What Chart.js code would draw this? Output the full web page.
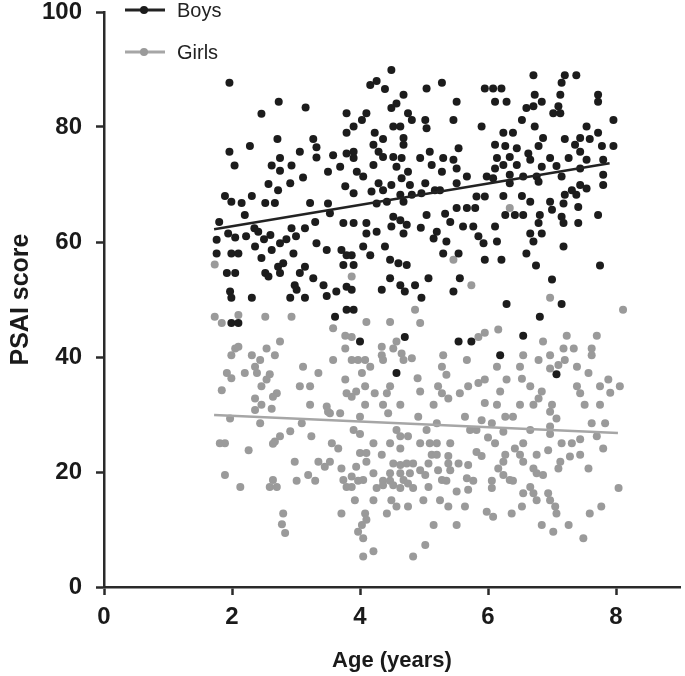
<!DOCTYPE html>
<html>
<head>
<meta charset="utf-8">
<script src="https://cdn.jsdelivr.net/npm/chart.js@4/dist/chart.umd.min.js"></script>
<style>
  body { margin: 0; background: #fff; }
  #wrap { width: 685px; height: 676px; }
</style>
</head>
<body>
<div id="wrap"><canvas id="psaiChart" width="685" height="676"></canvas></div>
<script>
// [age, PSAI score]
const boysPoints = [
  [1.96,87.7],[2.73,84.4],[2.46,82.3],[3.15,83.4],[2.28,76.7],[1.96,75.7],[2.71,77.9],[2.04,73.3],[3.27,77.9],[3.32,76.5],
  [3.32,74.7],[3.06,75.7],[2.75,74.6],[2.62,73.3],[2.75,72.4],[2.93,73.3],[3.11,71.2],[2.57,70.1],[2.91,70.2],[2.72,69.0],
  [1.89,68.0],[1.99,67.0],[2.15,66.8],[2.31,68.0],[2.52,66.8],[2.67,66.8],[3.22,66.8],[2.20,64.7],[3.50,66.7],[3.53,65.0],
  [3.79,82.4],[3.79,79.0],[3.58,75.1],[3.79,75.4],[3.50,72.2],[3.69,73.1],[3.77,69.7],[3.30,63.5],[2.93,62.4],[3.14,62.4],
  [1.94,61.5],[2.41,61.8],[3.74,63.3],[2.05,60.8],[2.22,61.0],[2.35,62.4],[2.50,60.5],[2.60,61.2],[2.85,60.5],[3.00,61.0],
  [1.76,60.4],[1.80,63.5],
  [4.49,89.9],[4.16,87.3],[4.26,88.0],[4.39,86.6],[5.04,86.7],[5.28,87.7],[5.51,84.4],[5.95,86.7],[4.68,85.6],[4.57,84.1],
  [4.49,83.3],[4.10,82.4],[4.03,81.2],[4.75,82.4],[4.81,81.2],[4.52,80.1],[4.63,80.1],[5.02,81.2],[5.04,79.8],[5.46,81.2],
  [5.90,80.1],[3.90,80.1],[4.23,79.0],[4.36,77.9],[4.68,78.1],[4.68,76.9],[4.21,76.9],[4.29,75.7],[4.36,74.8],[4.52,74.8],
  [4.65,74.6],[3.90,75.7],[3.90,74.6],[4.94,74.6],[5.09,75.7],[5.12,73.4],[5.30,74.6],[5.54,76.3],[5.46,74.3],[5.51,72.8],
  [5.28,72.2],[4.21,73.4],[4.57,73.1],[3.95,72.2],[4.05,71.4],[4.75,72.2],[4.65,71.1],[5.67,71.4],[5.98,71.4],[4.29,70.2],
  [4.49,69.9],[4.78,69.9],[5.02,70.2],[5.51,70.2],[3.90,68.5],[4.18,68.8],[4.36,69.0],[4.63,68.2],[4.81,68.2],[4.96,68.5],
  [5.17,69.0],[5.25,69.0],[5.82,67.9],[5.95,67.9],[4.26,66.7],[4.42,67.0],[4.68,67.0],[5.04,64.7],[5.33,64.9],[5.51,65.9],
  [5.67,65.9],[5.80,65.9],[5.41,63.5],[5.61,62.7],[5.77,62.7],[3.90,63.3],[4.10,63.3],[4.10,61.5],[4.52,64.4],[4.63,63.8],
  [4.73,63.0],[4.49,62.7],[4.26,61.8],[4.68,61.5],[5.20,61.8],[5.85,61.0],[4.95,62.5],[5.15,60.6],
  [6.71,89.0],[7.20,89.0],[7.38,89.0],[7.15,87.7],[6.08,86.7],[6.21,86.7],[6.11,84.4],[6.29,84.4],[6.73,85.6],[7.13,85.6],
  [7.72,85.6],[7.72,84.4],[6.84,84.4],[6.60,83.3],[6.71,83.6],[7.10,83.6],[7.02,82.4],[7.13,82.4],[6.53,81.2],[7.96,81.2],
  [6.73,80.1],[7.54,80.1],[6.24,79.0],[6.39,79.0],[7.72,79.0],[6.86,78.1],[7.20,77.9],[7.44,78.1],[7.59,77.9],[6.79,76.7],
  [6.11,76.9],[6.27,76.7],[6.45,76.3],[7.36,76.9],[7.78,76.7],[7.96,76.7],[6.63,75.4],[7.44,75.7],[6.14,74.6],[6.34,74.8],
  [6.97,74.6],[7.26,74.6],[7.54,74.3],[7.80,74.3],[6.66,74.3],[6.11,72.8],[6.45,73.4],[6.24,73.4],[6.84,73.1],[7.07,73.2],
  [7.44,72.8],[6.34,71.7],[6.55,71.4],[6.76,71.4],[7.15,71.4],[7.80,71.7],[6.08,71.1],[6.34,70.2],[6.79,70.5],[7.80,69.9],
  [7.44,69.9],[7.31,69.0],[7.54,69.3],[6.24,68.0],[6.53,68.0],[6.66,67.0],[7.20,68.2],[7.38,68.2],[6.97,67.0],[7.18,66.7],
  [7.41,66.1],[7.00,65.6],[6.27,64.7],[6.42,64.7],[6.55,64.7],[6.81,64.7],[7.15,64.4],[7.72,64.7],[6.79,63.3],[7.18,63.3],
  [7.41,63.3],[6.11,62.7],[6.66,61.5],[6.84,61.5],
  [1.76,58.0],[1.99,58.0],[2.10,58.0],[2.36,59.2],[2.46,57.2],[2.62,58.6],[2.75,59.8],[2.52,54.6],[2.57,54.0],[2.72,55.7],
  [2.80,56.3],[2.96,58.0],[2.75,54.6],[3.14,55.7],[3.06,54.6],[3.27,53.7],[2.98,52.5],[3.01,51.7],[3.43,52.5],[3.63,51.4],
  [3.79,52.2],[3.48,50.6],[3.14,50.3],[2.91,50.3],[2.31,50.3],[1.97,51.4],[1.99,50.3],[1.92,54.6],[2.05,54.6],[1.99,45.9],
  [2.10,45.9],[3.61,47.0],[3.79,48.2],[3.32,59.8],[3.48,58.6],[3.71,58.6],[3.79,57.7],[3.74,56.0],
  [4.05,59.2],[4.16,57.7],[3.87,57.7],[3.90,56.0],[4.39,59.2],[4.47,56.9],[4.60,56.3],[4.73,56.0],[5.35,60.1],[5.30,58.0],
  [5.54,58.0],[5.95,56.9],[5.93,59.8],[4.34,51.7],[4.47,53.7],[4.63,52.5],[4.70,51.4],[4.86,52.5],[5.07,53.7],[4.96,50.3],
  [3.87,51.7],[5.56,53.7],[5.46,51.4],[3.90,48.2],[4.00,42.7],[4.70,43.5],[5.54,42.7],[5.74,42.7],[4.57,37.2],
  [6.14,60.1],[6.71,60.1],[7.18,59.2],[6.60,58.0],[6.21,56.9],[6.75,55.9],[7.75,55.9],[7.00,53.5],[6.29,49.2],[7.15,49.2],
  [6.81,47.0],[6.55,43.7],[6.19,40.3],[7.07,37.0]
];

const girlsPoints = [
  [1.73,56.1],[1.73,47.0],[1.84,45.9],[2.10,47.3],[2.52,47.0],[2.93,47.0],[2.75,42.7],[2.05,41.5],[2.10,41.8],[1.99,40.3],
  [2.31,40.3],[2.54,41.5],[2.67,40.3],[2.44,39.5],[2.36,38.3],[2.39,37.2],[1.92,37.2],[1.99,36.3],[2.20,37.2],[2.59,37.0],
  [2.54,36.1],[2.46,34.9],[2.70,33.7],[2.64,33.1],[2.36,32.8],[2.46,31.7],[3.11,38.3],[3.35,37.2],[3.06,34.9],[3.22,34.9],
  [3.22,31.7],[3.58,45.0],[3.77,43.7],[3.77,41.5],[3.58,39.5],[3.77,36.1],[3.79,33.7],[3.48,31.4],
  [1.97,29.3],[2.44,28.5],[3.09,28.5],[3.53,30.2],[3.69,30.2],[1.81,25.0],[1.89,25.0],[2.26,23.8],[2.67,25.3],[2.75,26.2],
  [2.91,27.1],[2.64,24.9],[3.24,26.2],[3.56,25.0],[3.66,24.1],[2.98,21.8],[3.35,21.8],[3.45,20.9],[3.53,21.8],[3.71,20.6],
  [1.89,19.5],[2.13,17.4],[2.64,18.6],[2.59,17.4],[2.70,17.4],[3.01,18.5],[3.19,19.5],[3.30,18.5],[3.74,18.6],[3.79,17.4],
  [2.80,12.8],[2.78,10.9],[2.83,9.4],[3.71,12.8],[3.50,30.5],[2.36,30.8],[2.62,31.0],[1.84,34.2],
  [4.00,29.6],[4.44,30.2],[4.91,29.6],[5.64,29.6],[5.20,28.5],[4.57,27.3],[4.63,26.2],[5.04,27.3],[3.90,27.3],[4.00,26.6],
  [4.21,25.0],[4.47,25.0],[4.75,26.2],[4.94,25.0],[5.09,25.0],[5.20,25.0],[5.41,25.0],[5.72,27.3],[5.82,27.3],[4.00,23.3],
  [4.10,23.3],[4.34,23.0],[4.63,24.1],[5.12,23.0],[5.20,23.0],[5.38,22.8],[5.82,23.5],[5.90,22.8],[3.94,20.9],[4.10,21.8],
  [4.52,21.5],[4.63,21.2],[4.73,21.5],[4.83,21.5],[5.07,21.5],[5.38,21.5],[5.54,21.5],[5.69,21.2],[4.47,19.8],[4.63,19.8],
  [4.78,19.8],[4.94,20.3],[5.02,19.5],[5.22,20.3],[5.41,20.3],[4.21,19.8],[3.87,19.2],[4.05,18.6],[3.97,18.5],[4.36,18.5],
  [4.47,18.5],[4.68,18.6],[4.75,18.0],[4.83,17.2],[5.07,17.4],[5.28,18.6],[5.35,18.5],[5.51,16.6],[5.67,18.9],[5.77,18.5],
  [5.69,16.9],[3.87,17.4],[4.26,17.2],[4.36,17.7],[4.52,17.7],[4.63,17.2],[3.92,15.1],[4.21,15.1],[4.49,15.1],[4.57,14.0],
  [4.75,14.0],[4.99,15.1],[5.25,15.1],[5.38,14.0],[5.64,14.0],[5.98,13.1],[4.42,12.8],[4.08,12.8],[4.10,11.7],[4.03,10.8],
  [3.97,9.6],[4.05,8.5],[5.15,10.8],[5.51,10.8],[5.02,7.3],[4.05,5.3],[4.21,6.2],[4.83,5.3],[5.90,29.0],[6.00,26.0],
  [6.27,29.6],[6.39,29.6],[6.97,30.5],[7.07,29.3],[7.62,28.5],[7.83,28.5],[6.06,28.5],[6.24,27.0],[6.66,27.3],[6.97,27.9],
  [6.97,26.6],[6.11,25.0],[6.55,25.0],[6.94,23.8],[7.15,25.0],[7.31,25.0],[7.44,25.7],[7.70,26.2],[7.80,24.1],[6.42,24.1],
  [6.50,23.0],[6.55,21.8],[6.27,23.0],[6.24,21.8],[6.76,23.0],[7.13,21.8],[7.28,22.7],[7.44,23.0],[7.10,20.6],[7.57,20.6],
  [6.16,20.6],[6.24,19.5],[6.34,18.6],[6.39,18.5],[6.71,20.6],[6.76,19.8],[6.86,19.5],[6.06,18.5],[6.06,17.2],[6.66,17.4],
  [6.71,16.3],[6.76,15.1],[6.55,16.3],[6.94,16.3],[6.97,15.1],[7.05,14.0],[7.07,12.8],[6.53,14.0],[6.37,12.8],[6.08,12.2],
  [8.04,17.2],[7.59,12.8],[7.77,14.0],[6.84,10.8],[7.02,9.6],[7.26,10.8],[7.49,8.5],
  [6.97,50.3],[8.11,48.2],[6.16,44.8],[6.86,42.7],[7.23,43.7],[7.70,43.7],[6.55,40.3],[6.97,40.3],[7.18,41.5],[7.34,41.5],
  [7.62,41.5],[7.62,40.3],[6.79,39.5],[7.20,39.5],[7.10,38.6],[6.97,38.0],[6.14,38.3],[6.50,38.3],[7.39,38.3],[7.57,37.2],
  [6.29,36.1],[6.53,36.2],[6.66,34.9],[6.84,34.0],[6.79,32.8],[6.71,31.7],[6.19,34.0],[7.39,34.9],[7.44,33.7],[7.75,34.9],
  [7.88,36.1],[7.91,33.8],[8.06,34.9],[6.14,31.7],[6.50,31.7],[7.00,31.7],[7.51,31.7],[7.75,31.7],[6.34,65.9],
  [3.87,54.0],[5.46,56.9],[5.74,52.5],[4.86,48.2],[4.10,46.1],[4.47,46.1],[4.94,45.9],[3.87,43.5],[4.57,42.7],[4.52,41.5],
  [4.34,41.8],[4.34,40.3],[4.36,39.5],[4.65,40.6],[4.68,39.5],[4.81,39.8],[3.87,39.5],[3.97,39.5],[4.08,39.5],[4.16,38.3],
  [5.30,40.3],[5.67,39.5],[5.28,38.3],[5.85,43.5],[5.95,44.2],[4.03,37.2],[4.90,36.3],[5.35,36.9],[4.08,34.9],[3.94,34.0],
  [3.87,33.1],[4.23,33.7],[4.42,33.7],[4.47,34.9],[4.94,34.0],[5.22,34.9],[5.28,33.7],[5.56,33.7],[5.69,34.9],[5.85,35.5],
  [5.95,36.1],[4.63,31.7],[4.08,31.7],[4.36,31.7],[5.15,31.7],[5.38,32.8],[5.95,32.0]
];

// fitted lines, end points
const boysFit = [[1.72, 62.2], [7.9, 73.7]];
const girlsFit = [[1.72, 29.9], [8.03, 26.8]];

const seriesNames = ["Boys", "Girls"];
const seriesColors = ["#1c1c1c", "#9a9a9a"];
const fitColors = ["#222222", "#a6a6a6"];
const xTicks = [0, 2, 4, 6, 8];
const yTicks = [0, 20, 40, 60, 80, 100];

const toXY = (arr) => arr.map(([x, y]) => ({ x: x, y: y }));
const axisColor = "#2a2a2a";
const fontFamily = "'Liberation Sans', Arial, sans-serif";

// legend in the top-left corner, line + dot like the original
const cornerLegend = {
  id: "cornerLegend",
  afterDraw(chart) {
    const ctx = chart.ctx;
    const rows = [10, 52];
    ctx.save();
    seriesNames.forEach((name, i) => {
      const y = rows[i];
      ctx.strokeStyle = fitColors[i];
      ctx.lineWidth = 3;
      ctx.beginPath();
      ctx.moveTo(125, y);
      ctx.lineTo(165, y);
      ctx.stroke();
      ctx.fillStyle = seriesColors[i];
      ctx.beginPath();
      ctx.arc(144, y, 4, 0, Math.PI * 2);
      ctx.fill();
      ctx.fillStyle = "#222";
      ctx.font = "20px " + fontFamily;
      ctx.textBaseline = "middle";
      ctx.fillText(name, 177, y + 1);
    });
    ctx.restore();
  },
};

new Chart(document.getElementById("psaiChart"), {
  type: "scatter",
  data: {
    datasets: [
      {
        label: "Boys fit",
        type: "line",
        data: toXY(boysFit),
        borderColor: fitColors[0],
        borderWidth: 2.5,
        pointRadius: 0,
        fill: false,
        order: 0,
      },
      {
        label: "Girls fit",
        type: "line",
        data: toXY(girlsFit),
        borderColor: fitColors[1],
        borderWidth: 2.5,
        pointRadius: 0,
        fill: false,
        order: 0,
      },
      {
        label: seriesNames[0],
        data: toXY(boysPoints),
        pointRadius: 4,
        pointBackgroundColor: seriesColors[0],
        pointBorderWidth: 0,
        order: 1,
      },
      {
        label: seriesNames[1],
        data: toXY(girlsPoints),
        pointRadius: 4,
        pointBackgroundColor: seriesColors[1],
        pointBorderWidth: 0,
        order: 2,
      },
    ],
  },
  options: {
    responsive: false,
    animation: false,
    layout: { padding: { top: 0, right: 5, left: 0, bottom: 0 } },
    plugins: {
      legend: { display: false },
      tooltip: { enabled: false },
    },
    scales: {
      x: {
        type: "linear",
        min: 0,
        max: 9,
        afterBuildTicks: (scale) => {
          scale.ticks = xTicks.map((v) => ({ value: v }));
        },
        afterFit: (scale) => {
          scale.height = 89;
        },
        border: { display: true, color: axisColor, width: 2.5 },
        grid: {
          drawOnChartArea: false,
          drawTicks: true,
          tickLength: 8,
          tickWidth: 2.5,
          tickColor: axisColor,
        },
        ticks: {
          color: "#1a1a1a",
          padding: 10,
          maxRotation: 0,
          font: { family: fontFamily, size: 24, weight: "bold", lineHeight: 1.0 },
        },
        title: {
          display: true,
          text: "Age (years)",
          color: "#1a1a1a",
          padding: { top: 0, bottom: 2 },
          font: { family: fontFamily, size: 22, weight: "bold" },
        },
      },
      y: {
        type: "linear",
        min: 0,
        max: 100,
        afterBuildTicks: (scale) => {
          scale.ticks = yTicks.map((v) => ({ value: v }));
        },
        afterFit: (scale) => {
          scale.width = 104;
          scale.paddingTop = 12;
        },
        border: { display: true, color: axisColor, width: 2.5 },
        grid: {
          drawOnChartArea: false,
          drawTicks: true,
          tickLength: 8,
          tickWidth: 2.5,
          tickColor: axisColor,
        },
        ticks: {
          color: "#1a1a1a",
          padding: 14,
          font: { family: fontFamily, size: 24, weight: "bold", lineHeight: 1.0 },
        },
        title: {
          display: true,
          text: "PSAI score",
          color: "#1a1a1a",
          padding: { top: 6, bottom: 0 },
          font: { family: fontFamily, size: 25, weight: "bold" },
        },
      },
    },
  },
  plugins: [cornerLegend],
});
</script>
</body>
</html>
